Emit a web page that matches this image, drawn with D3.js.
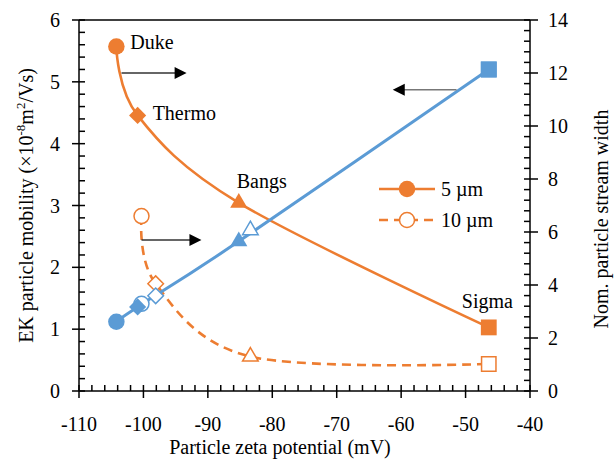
<!DOCTYPE html>
<html><head><meta charset="utf-8">
<script src="https://cdn.jsdelivr.net/npm/d3@7"></script>
<style>body{margin:0;background:#fff}svg{display:block}svg text{font-family:'Liberation Serif' !important}</style>
</head><body><svg id="c" width="614" height="460"></svg>
<script>
// ---- data ----
const sampleNames = ["Duke", "Thermo", "Bangs", "Sigma"];
const shapes = ["circle", "diamond", "triangle", "square"];
const zeta5 = [-104.2, -100.9, -85.2, -46.4];
const width5 = [13.0, 10.4, 7.1, 2.4];
const zeta10 = [-100.3, -98.1, -83.4, -46.4];
const width10 = [6.6, 4.05, 1.3, 1.02];
const mobilityFilled = [1.12, 1.36, 2.42, 5.2];
const mobilityOpen = [1.41, 1.54, 2.6, 5.2];
const xTickValues = [-110, -100, -90, -80, -70, -60, -50, -40];
const yLeftTicks = [0, 1, 2, 3, 4, 5, 6];
const yRightTicks = [0, 2, 4, 6, 8, 10, 12, 14];
const legendLabels = ["5 \u00b5m", "10 \u00b5m"];
// arrows
const arrows = [
  {x1: -103.4, x2: -93.3, y: 12.0, axis: "right"},
  {x1: -100.3, x2: -91.0, y: 5.7, axis: "right"},
  {x1: -51.4, x2: -61.3, y: 4.87, axis: "left"}
];
const labelOffsets = [[14, 2], [15, 5], [-2, -15], [-27, -19]];

const ORANGE = "#ED7D31", BLUE = "#5B9BD5";
const svg = d3.select("#c");
const L = 79, R = 530, T = 20, B = 391;
const x = d3.scaleLinear().domain([-110, -40]).range([L, R]);
const yL = d3.scaleLinear().domain([0, 6]).range([B, T]);
const yR = d3.scaleLinear().domain([0, 14]).range([B, T]);

function T_(sel) { return sel.attr("font-family", "Liberation Serif").style("font-family", "'Liberation Serif'"); }

// axes frame
const ax = svg.append("g").attr("stroke", "#000").attr("stroke-width", 1.5);
ax.append("line").attr("x1", L).attr("x2", R).attr("y1", B).attr("y2", B);
ax.append("line").attr("x1", L).attr("x2", R).attr("y1", T).attr("y2", T);
ax.append("line").attr("x1", L).attr("x2", L).attr("y1", T).attr("y2", B);
ax.append("line").attr("x1", R).attr("x2", R).attr("y1", T).attr("y2", B);
d3.range(-110, -39.9, 2).forEach(v => {
  const major = xTickValues.some(t => Math.abs(t - v) < 1e-6);
  ax.append("line").attr("x1", x(v)).attr("x2", x(v)).attr("y1", major ? B + 7 : B).attr("y2", B - 6);
});
d3.range(0, 6.001, 0.2).forEach(v => {
  const major = yLeftTicks.some(t => Math.abs(t - v) < 1e-6);
  ax.append("line").attr("y1", yL(v)).attr("y2", yL(v)).attr("x1", major ? L - 7 : L).attr("x2", L + 6);
});
d3.range(0, 14.001, 0.4).forEach(v => {
  const major = yRightTicks.some(t => Math.abs(t - v) < 1e-6);
  ax.append("line").attr("y1", yR(v)).attr("y2", yR(v)).attr("x1", major ? R + 8 : R).attr("x2", R - 6);
});

// tick labels
T_(svg.selectAll("text.xt").data(xTickValues).join("text").attr("class", "xt"))
  .attr("x", d => x(d)).attr("y", B + 40).attr("text-anchor", "middle").attr("font-size", 20).text(d => d);
T_(svg.selectAll("text.yl").data(yLeftTicks).join("text").attr("class", "yl"))
  .attr("x", L - 19).attr("y", d => yL(d) + 7).attr("text-anchor", "end").attr("font-size", 20).text(d => d);
T_(svg.selectAll("text.yr").data(yRightTicks).join("text").attr("class", "yr"))
  .attr("x", R + 18).attr("y", d => yR(d) + 7).attr("text-anchor", "start").attr("font-size", 20).text(d => d);

// axis titles
T_(svg.append("text")).attr("x", 280).attr("y", 454).attr("text-anchor", "middle").attr("font-size", 20)
  .text("Particle zeta potential (mV)");
const lt = T_(svg.append("text")).attr("transform", `translate(33,${(T + B) / 2}) rotate(-90)`)
  .attr("text-anchor", "middle").attr("font-size", 20);
lt.append("tspan").text("EK particle mobility (\u00d710");
lt.append("tspan").attr("font-size", 13).attr("dy", -8).text("-8");
lt.append("tspan").attr("dy", 8).text("m");
lt.append("tspan").attr("font-size", 13).attr("dy", -8).text("2");
lt.append("tspan").attr("dy", 8).text("/Vs)");
T_(svg.append("text")).attr("transform", `translate(608,219) rotate(-90)`).attr("text-anchor", "middle")
  .attr("font-size", 20).text("Nom. particle stream width");

// markers
function markerPath(shape, s) {
  const p = d3.path();
  if (shape === "circle") { p.arc(0, 0, s * 0.5, 0, 2 * Math.PI); }
  else if (shape === "square") { const h = s * 0.48; p.rect(-h, -h, 2 * h, 2 * h); }
  else if (shape === "diamond") { const h = s * 0.52; p.moveTo(0, -h); p.lineTo(h, 0); p.lineTo(0, h); p.lineTo(-h, 0); p.closePath(); }
  else if (shape === "triangle") { const w = s * 0.52, ht = s * 0.9; p.moveTo(0, -ht * 2 / 3); p.lineTo(w, ht / 3); p.lineTo(-w, ht / 3); p.closePath(); }
  return p.toString();
}
function drawMarkers(xs, ys, yScale, color, filled, size) {
  svg.append("g").selectAll("path").data(xs).join("path")
    .attr("transform", (d, i) => `translate(${x(d)},${yScale(ys[i])})`)
    .attr("d", (d, i) => markerPath(shapes[i], size))
    .attr("fill", filled ? color : "#fff").attr("stroke", color).attr("stroke-width", filled ? 0 : 1.5);
}
const curve = d3.curveCardinal.tension(0);

const line5 = d3.line().x(d => x(d[0])).y(d => yR(d[1])).curve(curve);
svg.append("path").attr("d", line5(zeta5.map((z, i) => [z, width5[i]])))
  .attr("fill", "none").attr("stroke", ORANGE).attr("stroke-width", 2.6);
svg.append("path").attr("d", line5(zeta10.map((z, i) => [z, width10[i]])))
  .attr("fill", "none").attr("stroke", ORANGE).attr("stroke-width", 2.6).attr("stroke-dasharray", "9,6");
drawMarkers(zeta10, width10, yR, ORANGE, false, 15);
drawMarkers(zeta5, width5, yR, ORANGE, true, 16.5);

const lineM = d3.line().x(d => x(d[0])).y(d => yL(d[1])).curve(curve);
svg.append("path").attr("d", lineM(zeta5.map((z, i) => [z, mobilityFilled[i]])))
  .attr("fill", "none").attr("stroke", BLUE).attr("stroke-width", 3);
drawMarkers(zeta10, mobilityOpen, yL, BLUE, false, 15);
drawMarkers(zeta5, mobilityFilled, yL, BLUE, true, 16.5);

// sample labels
T_(svg.selectAll("text.nm").data(sampleNames).join("text").attr("class", "nm"))
  .attr("x", (d, i) => x(zeta5[i]) + labelOffsets[i][0])
  .attr("y", (d, i) => yR(width5[i]) + labelOffsets[i][1])
  .attr("font-size", 20).text(d => d);

// arrows
arrows.forEach(a => {
  const ys = a.axis === "left" ? yL : yR;
  const x1 = x(a.x1), x2 = x(a.x2), yy = ys(a.y);
  const dir = Math.sign(x2 - x1);
  svg.append("line").attr("x1", x1).attr("x2", x2 - dir * 11).attr("y1", yy).attr("y2", yy)
    .attr("stroke", a.axis === "left" ? "#777" : "#333").attr("stroke-width", 1.5);
  svg.append("path").attr("d", `M${x2},${yy}L${x2 - dir * 12},${yy - 6}L${x2 - dir * 12},${yy + 6}Z`).attr("fill", "#000");
});

// legend
legendLabels.forEach((lab, i) => {
  const yy = 189 + i * 31;
  svg.append("line").attr("x1", 379).attr("x2", 435).attr("y1", yy).attr("y2", yy)
    .attr("stroke", ORANGE).attr("stroke-width", 2.6).attr("stroke-dasharray", i ? "9,6" : null);
  svg.append("path").attr("transform", `translate(407,${yy})`).attr("d", markerPath("circle", i ? 15 : 16.5))
    .attr("fill", i ? "#fff" : ORANGE).attr("stroke", ORANGE).attr("stroke-width", i ? 1.5 : 0);
  T_(svg.append("text")).attr("x", 441).attr("y", yy + 7).attr("font-size", 20).text(lab);
});
</script></body></html>
